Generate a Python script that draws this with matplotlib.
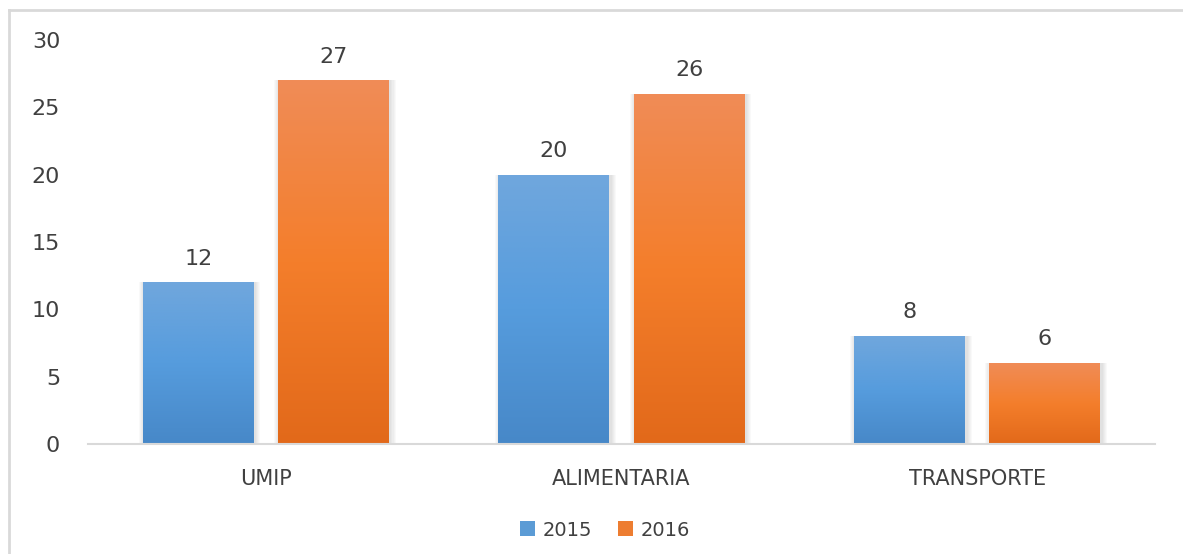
import matplotlib.pyplot as plt
import numpy as np
from matplotlib.colors import LinearSegmentedColormap
from matplotlib.patches import Patch

categories = ['UMIP', 'ALIMENTARIA', 'TRANSPORTE']
years = ['2015', '2016']
values_2015 = [12, 20, 8]
values_2016 = [27, 26, 6]

plt.rcParams['font.family'] = ['DejaVu Sans']
txt = '#404040'

fig = plt.figure(figsize=(11.83, 5.54), dpi=100)
W, H = 1183, 554
ax = fig.add_axes([88 / W, (554 - 444) / H, (1155 - 88) / W, (444 - 40) / H])

# gradients (top -> bottom)
blue_cm = LinearSegmentedColormap.from_list('b', ['#70a7dd', '#569cdd', '#4788c8'])
orange_cm = LinearSegmentedColormap.from_list('o', ['#f08c57', '#f47e2b', '#e2691a'])
grad = np.linspace(0, 1, 256).reshape(-1, 1)

x = np.arange(len(categories))
bw = 0.312
off = 0.19

for vals, cm, shift in [(values_2015, blue_cm, -off), (values_2016, orange_cm, off)]:
    # soft shadow
    for k in range(1, 6):
        ax.bar(x + shift + 0.004, vals, width=bw + 0.006 * k, color='black',
               alpha=0.022, zorder=1, linewidth=0)
    bars = ax.bar(x + shift, vals, width=bw, color='none', zorder=2, linewidth=0)
    for b in bars:
        x0, w, h = b.get_x(), b.get_width(), b.get_height()
        im = ax.imshow(grad, cmap=cm, aspect='auto', extent=[x0, x0 + w, 0, h],
                       origin='upper', zorder=2)
        im.set_clip_path(b)
    for xi, v in zip(x + shift, vals):
        ax.annotate(str(v), (xi, v), xytext=(0, 10), textcoords='offset points',
                    ha='center', va='bottom', fontsize=16, color=txt)

ax.set_xlim(-0.5, 2.5)
ax.set_ylim(0, 30)
ax.set_yticks(range(0, 31, 5))
ax.set_xticks(x)
ax.set_xticklabels(categories)
ax.tick_params(axis='y', length=0, labelsize=16, colors=txt, pad=20)
ax.tick_params(axis='x', length=0, labelsize=15, colors=txt, pad=18)
for s in ['top', 'right', 'left']:
    ax.spines[s].set_visible(False)
ax.spines['bottom'].set_color('#d9d9d9')
ax.spines['bottom'].set_linewidth(1.5)
ax.spines['bottom'].set_zorder(3)

handles = [Patch(facecolor='#5b9bd5', label=years[0]),
           Patch(facecolor='#ed7d31', label=years[1])]
fig.legend(handles=handles, loc='center', bbox_to_anchor=(605 / W, 1 - 530 / H),
           ncol=2, frameon=False, fontsize=14, handlelength=0.8, handleheight=0.8,
           handletextpad=0.4, columnspacing=1.3, labelcolor=txt)

# outer frame (left and top)
fig.add_artist(plt.Line2D([8.5 / W, 8.5 / W], [0, 1 - 10 / H], color='#d9d9d9',
                          lw=2, transform=fig.transFigure))
fig.add_artist(plt.Line2D([8.5 / W, 1], [1 - 10 / H, 1 - 10 / H], color='#d9d9d9',
                          lw=2, transform=fig.transFigure))

fig.savefig('out.png', dpi=100)
